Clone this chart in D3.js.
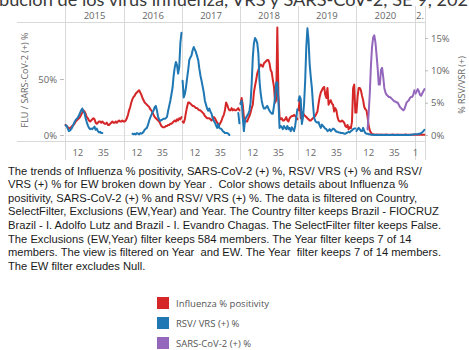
<!DOCTYPE html>
<html>
<head>
<meta charset="utf-8">
<script src="https://cdn.jsdelivr.net/npm/d3@7"></script>
<style>
    body { margin: 0; background: #fff; overflow: hidden; }
    svg text { font-family: "Open Sans", sans-serif; }
</style>
</head>
<body>
<div id="chart"></div>
<script>
const years = ['2015', '2016', '2017', '2018', '2019', '2020', '2021'];
const yearHeaders = ['2015', '2016', '2017', '2018', '2019', '2020', '2.'];
const weeksPerYear = [53, 52, 52, 52, 52, 53, 9];
const weekTicks = [[12, 35], [12, 35], [12, 35], [12, 35], [12, 35], [12, 35], [1]];
const fluTicks = [0, 50];
const rsvTicks = [0, 5, 10, 15];

// Influenza % positivity, one array per year (left axis)
const flu = [
    [9,8,7,6,6,7,8,9,10,12, 13,14,15,16,18,20,22,21,19,16, 15,13,12,13,14,15,14,11,10,11, 12,12,11,12,11,10,10,11,9,9, 10,11,12,11,11,12,11,12,13,12, 12,13,12],
    [12,13,15,18,22,25,29,32,34,35, 37,38,39,40,38,36,33,31,29,28, 27,26,25,23,22,20,18,16,15,14, 13,12,10,8,7,7,7,8,8,9, 9,10,10,11,12,13,12,14,13,15, 14,16],
    [12,11,14,20,25,29,29,28,27,26, 26,25,24,24,23,22,22,21,20,19, 17,16,15,15,15,14,13,14,16,15, 13,11,10,9,11,13,16,18,22,29, 27,24,22,22,24,22,23,22,22,23, 24,22],
    [28,33,27,16,13,12,12,15,17,20, 24,27,38,44,49,55,58,61,63,62, 61,64,65,66,67,67,64,58,56,49, 43,29,31,96,35,16,14,15,13,13, 14,16,13,12,15,16,17,17,18,17, 16,14],
    [22,31,15,20,20,18,17,16,15,14, 13,13,14,15,16,17,19,21,28,34, 38,40,42,43,36,33,42,27,30,31, 28,27,21,24,22,16,13,12,12,13, 12,11,8,7,9,5,7,6,12,42, 45,20],
    [20,34,42,42,40,35,31,25,23,22, 16,8,4,2,1,0.5,0.4,0.3,0.4,0.3, 0.3,0.4,0.3,0.2,0.3,0.3,0.4,0.3,0.2,0.3, 0.3,0.2,0.3,0.4,0.3,0.3,0.2,0.3,0.3,0.2, 0.3,0.3,0.2,0.3,0.4,0.3,0.3,0.2,0.3,0.3, 0.2,0.3,0.3],
    [0.3,0.2,0.3,0.3,0.2,0.3,0.3,0.2,0.3]
];

// RSV/ VRS (+) %, one array per year (right axis)
const rsv = [
    [1.5,1.4,1.0,0.6,0.7,0.9,1.2,1.6,2.0,2.3, 2.5,2.7,3.0,3.4,3.8,4.1,3.6,3.4,2.6,2.0, 1.5,1.1,0.9,1.0,0.9,1.1,1.3,0.8,1.0,0.6, 0.4,0.5,0.3,0.3,null,null,null,null,null,null, null,null,null,null,null,null,null,null,null,null, null,null,null],
    [null,null,null,null,null,null,null,0.2,0.1,0.2, 0.1,0.3,0.2,0.1,0.3,0.2,0.3,0.5,0.8,1.0, 1.1,1.6,2.2,2.7,3.1,3.5,3.8,4.3,4.5,3.8, 2.8,2.4,2.2,2.3,2.4,2.5,2.5,2.6,2.8,3.7, 4.5,5.3,6.3,7.3,9.2,10.5,11.3,10.8,9.5,10.5, 14.2,15.8],
    [8.4,5.8,6.3,7.3,8.7,10,11.6,12.0,12.3,13.1, 13.6,13.2,12.8,12.2,11.6,10.3,9.2,8.4,7.5,6.6, 5.3,4.7,4.1,3.75,4.1,3.6,3.3,2.6,2.2,1.9, 1.5,1.1,1.7,1.1,1.0,0.9,0.6,0.5,0.3,0.3, 0.3,0.2,0.0,null,null,null,null,null,null,null, 3.4,1.8],
    [4.8,5.3,2.7,0.6,2.2,2.7,3.0,3.3,3.75,5.0, 8.0,12.0,14.2,15.0,14.7,14.2,12.6,8.4,6.5,5.3, 4.5,4.1,4.1,4.3,4.5,4.1,3.75,3.5,3.3,3.3, 4.5,5.8,8.1,8.1,5.3,1.1,1.4,1.2,0.9,1.4, 1.1,0.9,1.4,0.9,1.1,0.6,1.2,0.9,0.6,1.4, 2.7,4.0],
    [5.3,6.0,5.6,1.7,2.7,4.8,8.4,13.6,16.5,14.7, 11,9,7.3,4.8,2.7,2.2,2.0,1.9,2.0,1.5, 1.1,1.6,1.4,1.2,1.0,0.9,0.6,0.7,0.9,0.6, 0.8,1.0,0.9,0.7,0.5,0.5,0.4,0.4,0.3,0.3, 0.3,0.2,0.2,0.3,0.4,0.5,0.4,0.6,0.7,0.9, 1.0,1.0],
    [0.6,0.9,1.1,0.9,0.6,0.6,1.1,0.6,0.3,0.2, 0.2,0.1,0.1,0.05,0.05,0,0.05,0,0,0.05, 0,0,0,0.05,0,0,0,0.05,0,0, 0,0,0.05,0,0,0,0,0.05,0,0, 0,0,0,0,0.05,0,0,0,0,0.05, 0.05,0.1,0.1],
    [0.1,0.1,0.1,0.2,0.2,0.3,0.4,0.6,0.8]
];

// SARS-CoV-2 (+) %, one array per year (left axis)
const sars = [
    [], [], [], [], [],
    [null,null,null,null,null,null,null,null,null,null, 5,20,38,62,79,87,89,83,72,60, 45,45,58,60,52,42,38,36,35,34, 34,33,32,31,30,30,29,29,27,25, 24,23,22,23,26,29,30,31,33,34, 34,36,40],
    [37,39,41,39,36,35,37,39,41]
];

const legendItems = ['Influenza % positivity', 'RSV/ VRS (+) %', 'SARS-CoV-2 (+) %'];
const colors = ['#d62728', '#1f77b4', '#9467bd'];

const titleText = 'bución de los virus influenza, VRS y SARS-CoV-2, SE 9, 2021';
const descLines = [
    'The trends of Influenza % positivity, SARS-CoV-2 (+) %, RSV/ VRS (+) % and RSV/',
    'VRS (+) % for EW broken down by Year .  Color shows details about Influenza %',
    'positivity, SARS-CoV-2 (+) % and RSV/ VRS (+) %. The data is filtered on Country,',
    'SelectFilter, Exclusions (EW,Year) and Year. The Country filter keeps Brazil - FIOCRUZ',
    'Brazil - I. Adolfo Lutz and Brazil - I. Evandro Chagas. The SelectFilter filter keeps False.',
    'The Exclusions (EW,Year) filter keeps 584 members. The Year filter keeps 7 of 14',
    'members. The view is filtered on Year  and EW. The Year  filter keeps 7 of 14 members.',
    'The EW filter excludes Null.'
];

const width = 469, height = 350;
const plot = { left: 65, right: 425, top: 22, bottom: 141 };
const lineColor = '#d9d9d9';
const axisText = '#666';

const svg = d3.select('#chart')
    .append('svg')
    .attr('width', width)
    .attr('height', height);

// cut-off title at the very top
svg.append('text')
    .attr('x', -1)
    .attr('y', 6)
    .style('font-family', 'Lato, sans-serif')
    .style('font-size', '18.2px')
    .attr('fill', '#3a3a3a')
    .text(titleText);

const weekKeys = years.flatMap((y, i) => d3.range(1, weeksPerYear[i] + 1).map(w => y + '-' + w));

const xScale = d3.scaleBand()
    .domain(weekKeys)
    .range([plot.left, plot.right])
    .padding(0);

const yLeft = d3.scaleLinear()
    .domain([0, 50])
    .range([135, 79]);

const yRight = d3.scaleLinear()
    .domain([0, 15])
    .range([135, 38]);

const cx = key => xScale(key) + xScale.bandwidth() / 2;

// header line and bottom line
svg.append('line')
    .attr('x1', 17).attr('x2', plot.right)
    .attr('y1', plot.top + 0.5).attr('y2', plot.top + 0.5)
    .attr('stroke', lineColor);

svg.append('line')
    .attr('x1', 17).attr('x2', plot.right)
    .attr('y1', plot.bottom + 0.5).attr('y2', plot.bottom + 0.5)
    .attr('stroke', lineColor);

// zero line
svg.append('line')
    .attr('x1', plot.left).attr('x2', plot.right)
    .attr('y1', Math.round(yLeft(0)) + 0.5).attr('y2', Math.round(yLeft(0)) + 0.5)
    .attr('stroke', '#ececec');

// year panes: separators, header labels, week ticks
const paneEdges = years.map(y => xScale(y + '-1')).concat([plot.right]);

svg.selectAll('.sep')
    .data(paneEdges)
    .enter()
    .append('line')
    .attr('class', 'sep')
    .attr('x1', d => Math.round(d) + 0.5)
    .attr('x2', d => Math.round(d) + 0.5)
    .attr('y1', 6)
    .attr('y2', 160)
    .attr('stroke', lineColor);

svg.selectAll('.year-label')
    .data(years)
    .enter()
    .append('text')
    .attr('class', 'year-label')
    .attr('x', (d, i) => (paneEdges[i] + paneEdges[i + 1]) / 2)
    .attr('y', 18.5)
    .attr('text-anchor', 'middle')
    .style('font-size', '9.5px')
    .attr('fill', axisText)
    .text((d, i) => yearHeaders[i]);

const tickData = years.flatMap((y, i) => weekTicks[i].map(w => ({ key: y + '-' + w, w: w })));

svg.selectAll('.week-label')
    .data(tickData)
    .enter()
    .append('text')
    .attr('class', 'week-label')
    .attr('x', d => cx(d.key))
    .attr('y', 155.5)
    .attr('text-anchor', 'middle')
    .style('font-size', '9.5px')
    .attr('fill', axisText)
    .text(d => d.w);

// left axis
const leftAxis = svg.append('g')
    .attr('transform', `translate(${plot.left - 1}, 0)`)
    .call(d3.axisLeft(yLeft).tickValues(fluTicks).tickSize(4).tickFormat(d => d + '%'));
leftAxis.select('.domain').remove();
leftAxis.selectAll('line').attr('stroke', '#bbb');
leftAxis.selectAll('text')
    .attr('fill', axisText)
    .style('font-size', '9.5px')
    .style('font-family', '"Open Sans", sans-serif');

svg.append('text')
    .attr('transform', 'rotate(-90)')
    .attr('x', -80)
    .attr('y', 28)
    .attr('text-anchor', 'middle')
    .style('font-size', '9px')
    .attr('fill', axisText)
    .text('FLU / SARS-CoV-2 (+) %');

// right axis
const rightAxis = svg.append('g')
    .attr('transform', `translate(${plot.right}, 0)`)
    .call(d3.axisRight(yRight).tickValues(rsvTicks).tickSize(3).tickFormat(d => d + '%'));
rightAxis.select('.domain').remove();
rightAxis.selectAll('line').attr('stroke', '#bbb');
rightAxis.selectAll('text')
    .attr('fill', axisText)
    .style('font-size', '9.5px')
    .style('font-family', '"Open Sans", sans-serif');

svg.append('text')
    .attr('transform', 'rotate(-90)')
    .attr('x', -85)
    .attr('y', 465)
    .attr('text-anchor', 'middle')
    .style('font-size', '9px')
    .attr('fill', axisText)
    .text('% RSV/VSR (+)');

// series lines, broken per year pane
const seriesList = [
    { name: legendItems[0], values: flu, scale: yLeft, color: colors[0] },
    { name: legendItems[1], values: rsv, scale: yRight, color: colors[1] },
    { name: legendItems[2], values: sars, scale: yLeft, color: colors[2] }
];

const lineLayer = svg.append('g').attr('class', 'lines');

seriesList.forEach(s => {
    const line = d3.line()
        .defined(d => d.v !== null)
        .x(d => cx(d.key))
        .y(d => s.scale(d.v))
        .curve(d3.curveLinear);

    const segments = years.map((y, i) => (s.values[i] || []).map((v, j) => ({ key: y + '-' + (j + 1), v: v })));

    lineLayer.selectAll(null)
        .data(segments.filter(seg => seg.length > 0))
        .enter()
        .append('path')
        .attr('d', seg => line(seg))
        .attr('fill', 'none')
        .attr('stroke', s.color)
        .attr('stroke-width', 2)
        .attr('stroke-linejoin', 'round')
        .attr('stroke-linecap', 'round');
});

// caption text
svg.append('g')
    .selectAll('text')
    .data(descLines)
    .enter()
    .append('text')
    .attr('x', 8)
    .attr('y', (d, i) => 174.5 + i * 13.6)
    .style('font-family', '"Liberation Sans", Arial, sans-serif')
    .style('font-size', '11.2px')
    .attr('fill', '#1a1a1a')
    .style('white-space', 'pre')
    .text(d => d);

// legend
const legend = svg.append('g')
    .attr('transform', 'translate(157, 297)');

legend.selectAll('.legend-item')
    .data(legendItems)
    .enter()
    .append('g')
    .attr('class', 'legend-item')
    .attr('transform', (d, i) => `translate(0, ${i * 20})`)
    .each(function(d, i) {
        const g = d3.select(this);
        g.append('rect')
            .attr('width', 12)
            .attr('height', 12)
            .attr('fill', colors[i]);
        g.append('text')
            .attr('x', 19)
            .attr('y', 10)
            .style('font-size', '9.5px')
            .attr('fill', '#555')
            .text(d);
    });
</script>
</body>
</html>
